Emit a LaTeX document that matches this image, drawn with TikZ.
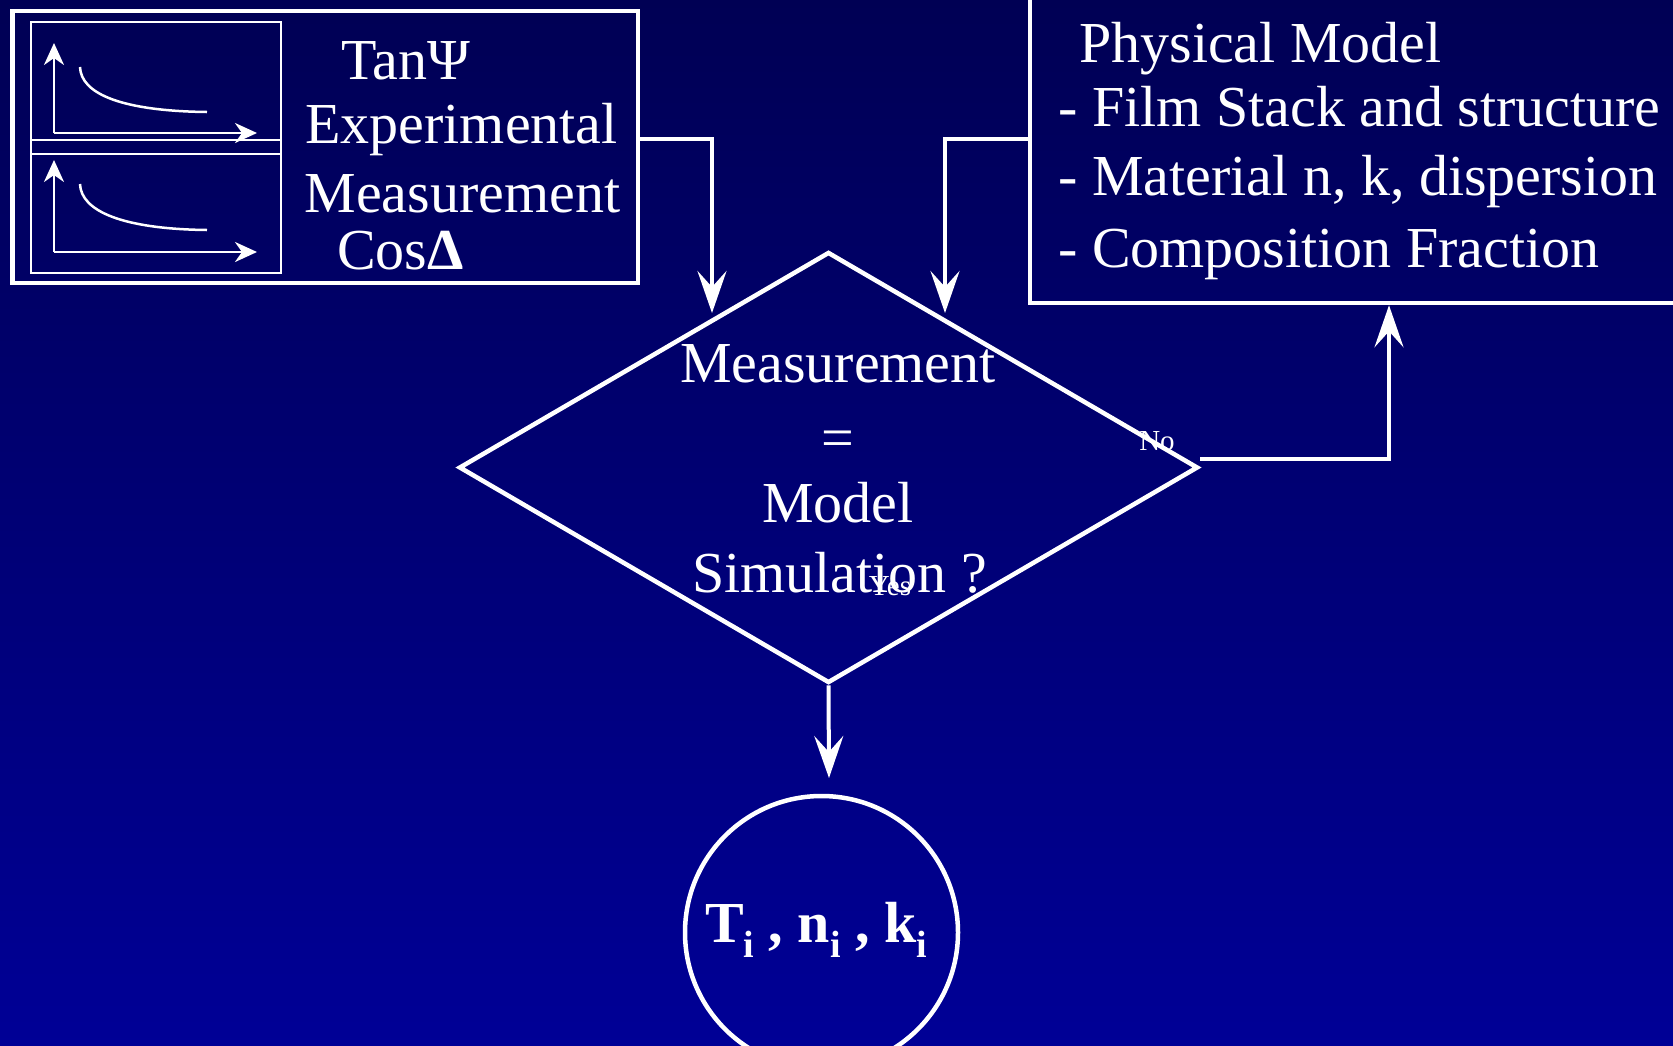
\documentclass[tikz,border=0pt]{standalone}
\usepackage{fontspec}
\setmainfont{Liberation Serif}
\usetikzlibrary{arrows.meta,shapes.geometric}
\definecolor{bgtop}{RGB}{0,0,84}
\definecolor{bgbot}{RGB}{0,0,150}
\newcommand\lowi{\raisebox{-15pt}{\fontsize{38}{38}\selectfont i}}
\tikzset{
  big/.style={font=\fontsize{58}{70}\selectfont, text=white, inner sep=0pt},
  small/.style={font=\fontsize{29}{32}\selectfont, text=white, inner sep=0pt},
  box/.style={draw=white, line width=4.5pt, rectangle, inner sep=0pt},
  conn/.style={draw=white, line width=4pt, -{Stealth[length=42pt,width=29pt,inset=16pt]}},
  axisline/.style={draw=white, line width=2.8pt, -{Stealth[length=22pt,width=20pt,inset=7pt]}},
  thinline/.style={draw=white, line width=2.5pt},
}
\begin{document}
\begin{tikzpicture}[x=1pt,y=-1pt]
\useasboundingbox (0,0) rectangle (1673,1045);
\clip (0,0) rectangle (1673,1045);
\fill[top color=bgtop,bottom color=bgbot] (0,0) rectangle (1673,1045);

% left measurement box
\node[box, minimum width=625.5pt, minimum height=272pt] (leftbox) at (325.25,147) {};
\draw[thinline] (31,22) rectangle (281,273);
\draw[thinline] (31,140) -- (281,140) (31,154) -- (281,154);
% upper plot
\draw[axisline] (54,133) -- (54,43);
\draw[axisline] (54,133) -- (257,133);
\draw[thinline] (80,67) .. controls (81,94) and (122,111) .. (207,112);
% lower plot
\draw[axisline] (54,252) -- (54,160);
\draw[axisline] (54,252) -- (257,252);
\draw[thinline] (80,184) .. controls (81,211) and (122,229) .. (207,230);

\node[big, anchor=base] (tpsi) at (406,79) {TanΨ};
\node[big, anchor=base] (lexp) at (461.5,143) {Experimental};
\node[big, anchor=base] (lmeas) at (462.5,212) {Measurement};
\node[big, anchor=base] (cdel) at (400.5,269) {Cos\textbf{Δ}};

% right physical model box
\node[box, minimum width=680pt, minimum height=340pt] (rightbox) at (1370,133) {};
\node[big, anchor=base west] (pm) at (1079,62) {Physical Model};
\node[big, anchor=base west] (pm1) at (1058,126) {- Film Stack and structure};
\node[big, anchor=base west] (pm2) at (1058,195) {- Material n, k, dispersion};
\node[big, anchor=base west] (pm3) at (1058,267) {- Composition Fraction};

% decision diamond
\node[draw=white, line width=4.5pt, diamond, minimum width=739pt, minimum height=431pt, inner sep=0pt] (dia) at (828.5,467.5) {};
\node[big, anchor=base] (d1) at (838,382) {Measurement};
\node[big, anchor=base] (d2) at (838,457) {=};
\node[big, anchor=base] (d3) at (838,522) {Model};
\node[big, anchor=base] (d4) at (839.5,592) {Simulation ?};
\node[small, anchor=base] (yes) at (890,595) {Yes};
\node[small, anchor=base] (no) at (1157,450) {No};

% result circle
\node[draw=white, line width=4.5pt, circle, minimum size=273pt, inner sep=0pt] (res) at (821.5,932.5) {};
\node[font=\bfseries\fontsize{58}{58}\selectfont, text=white, inner sep=0pt, anchor=base] (restext) at (816,942) {T\lowi{} , n\lowi{} , k\lowi};

% connectors
\coordinate (j1) at (712,139);
\coordinate (t1) at (712,313);
\draw[conn] (leftbox.east |- j1) -- (j1) -- (t1);
\coordinate (j2) at (945,139);
\coordinate (t2) at (945,313);
\draw[conn] (rightbox.west |- j2) -- (j2) -- (t2);
\coordinate (j3) at (1389,459);
\draw[conn] (dia.east |- j3) -- (j3) -- (j3 |- rightbox.south);
\coordinate (t4) at (829,778);
\draw[conn] (dia.south) -- (t4);
\end{tikzpicture}
\end{document}
